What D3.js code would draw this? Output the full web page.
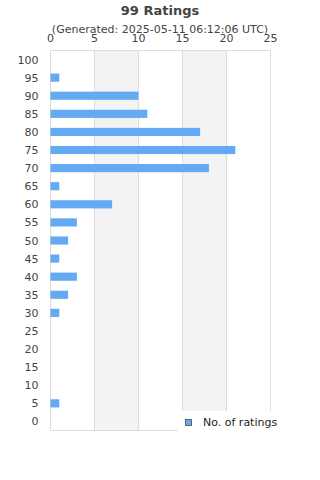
<!DOCTYPE html>
<html><head><meta charset="utf-8">
<script src="https://cdn.jsdelivr.net/npm/d3@7"></script>
<style>body{margin:0;background:#fff;font-family:"DejaVu Sans",sans-serif;}</style>
</head><body><svg id="c" width="320" height="480"></svg>
<script>
const categories = ["100","95","90","85","80","75","70","65","60","55","50","45","40","35","30","25","20","15","10","5","0"];
const counts = [0,1,10,11,17,21,18,1,7,3,2,1,3,2,1,0,0,0,0,1,0];
const xTicks = [0,5,10,15,20,25];
const title = "99 Ratings";
const subtitle = "(Generated: 2025-05-11 06:12:06 UTC)";
const seriesName = "No. of ratings";

const svg = d3.select("#c");
const L = 50.5, R = 270.5, T = 50.5, B = 430.5;
const x = d3.scaleLinear().domain([0,25]).range([L,R]);
const y = d3.scaleBand().domain(categories).range([T,B]).paddingInner(0.55).paddingOuter(0.275);
const txt = "#444";

// alternating bands
for (let i = 0; i < xTicks.length-1; i++) {
  if (i % 2 === 1) svg.append("rect").attr("x", x(xTicks[i])).attr("y", T)
    .attr("width", x(xTicks[i+1]) - x(xTicks[i])).attr("height", B - T).attr("fill", "#f3f3f3");
}
// grid lines
svg.selectAll(".g").data(xTicks).enter().append("line")
  .attr("x1", d => x(d)).attr("x2", d => x(d)).attr("y1", T).attr("y2", B)
  .attr("stroke", "#ddd").attr("stroke-width", 1);
svg.append("line").attr("x1", L).attr("x2", R).attr("y1", T).attr("y2", T).attr("stroke", "#ddd");
svg.append("line").attr("x1", L).attr("x2", R).attr("y1", B).attr("y2", B).attr("stroke", "#ddd");

// bars
svg.selectAll(".bar").data(categories).enter().append("rect")
  .attr("x", L).attr("y", d => y(d))
  .attr("width", (d,i) => x(counts[i]) - x(0)).attr("height", y.bandwidth())
  .attr("fill", "#63a9f4");

// y labels
svg.selectAll(".yl").data(categories).enter().append("text")
  .attr("x", 38.5).attr("y", d => y(d) + y.bandwidth()/2 + 4)
  .attr("text-anchor", "end").attr("font-size", 11).attr("fill", txt).text(d => d);

// titles
svg.append("text").attr("x", 160).attr("y", 15).attr("text-anchor", "middle")
  .attr("font-size", 13).attr("font-weight", "bold").attr("fill", txt).text(title);
svg.append("text").attr("x", 160).attr("y", 33).attr("text-anchor", "middle")
  .attr("font-size", 11).attr("fill", txt).text(subtitle);

// top axis labels
svg.selectAll(".xl").data(xTicks).enter().append("text")
  .attr("x", d => x(d)).attr("y", 42).attr("text-anchor", "middle")
  .attr("font-size", 11).attr("fill", txt).text(d => d);

// legend
svg.append("rect").attr("x", 178).attr("y", 411).attr("width", 120).attr("height", 30).attr("fill", "#fff");
svg.append("rect").attr("x", 185.5).attr("y", 419.5).attr("width", 6).attr("height", 6)
  .attr("fill", "#63a9f4").attr("stroke", "#666").attr("stroke-width", 1);
svg.append("text").attr("x", 203).attr("y", 426).attr("font-size", 11).attr("fill", "#222").text(seriesName);
</script></body></html>
